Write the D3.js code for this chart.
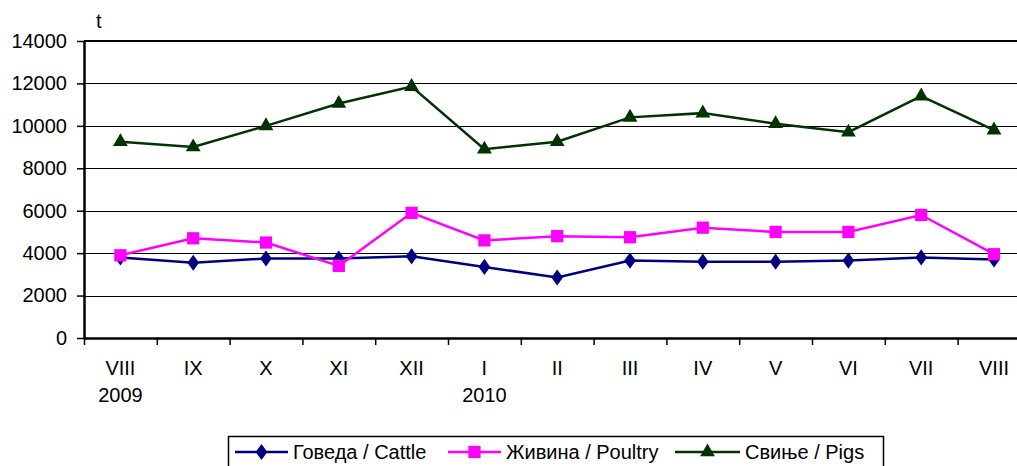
<!DOCTYPE html>
<html>
<head>
<meta charset="utf-8">
<script src="https://cdn.jsdelivr.net/npm/d3@7"></script>
<style>
  body { margin: 0; background: #fff; }
  svg text { font-family: "Liberation Sans", Arial, sans-serif; fill: #000; }
</style>
</head>
<body>
<svg width="1017" height="466"></svg>
<script>
// months (VIII 2009 .. VIII 2010)
var months = ["VIII", "IX", "X", "XI", "XII", "I", "II", "III", "IV", "V", "VI", "VII", "VIII"];
var years = ["2009", "", "", "", "", "2010", "", "", "", "", "", "", ""];
var cattle = [3800, 3550, 3750, 3750, 3850, 3350, 2850, 3650, 3600, 3600, 3650, 3800, 3700];
var poultry = [3900, 4700, 4500, 3400, 5900, 4600, 4800, 4750, 5200, 5000, 5000, 5800, 3950];
var pigs = [9250, 9000, 10000, 11050, 11850, 8900, 9250, 10400, 10600, 10100, 9700, 11400, 9800];
var yTicks = [0, 2000, 4000, 6000, 8000, 10000, 12000, 14000];
var seriesNames = ["Говеда / Cattle", "Живина / Poultry", "Свиње / Pigs"];

var series = [
  { name: seriesNames[0], values: cattle, color: "#000080", symbol: d3.symbolDiamond, size: 75 },
  { name: seriesNames[1], values: poultry, color: "#ff00ff", symbol: d3.symbolSquare, size: 150 },
  { name: seriesNames[2], values: pigs, color: "#003300", symbol: d3.symbolTriangle, size: 95 }
];

var svg = d3.select("svg"),
    plotLeft = 84, plotTop = 41, plotBottom = 338,
    plotRight = plotLeft + 13 * 72.8;

var x = d3.scaleBand()
    .domain(d3.range(months.length))
    .range([plotLeft, plotRight]);

var xb = d3.scaleLinear().domain([0, months.length]).range([plotLeft, plotRight]);

var y = d3.scaleLinear()
    .domain([0, 14000])
    .range([plotBottom, plotTop]);

// gridlines
svg.append("g")
    .selectAll("line")
    .data(yTicks.slice(1, -1))
    .enter().append("line")
    .attr("x1", plotLeft).attr("x2", plotRight)
    .attr("y1", function(d) { return Math.round(y(d)) + 0.5; })
    .attr("y2", function(d) { return Math.round(y(d)) + 0.5; })
    .attr("stroke", "#000")
    .attr("stroke-width", 1);

// top border of plot area
svg.append("line")
    .attr("x1", plotLeft).attr("x2", plotRight)
    .attr("y1", y(14000)).attr("y2", y(14000))
    .attr("stroke", "#000").attr("stroke-width", 2);

// y axis
var yAxis = svg.append("g")
    .attr("transform", "translate(" + plotLeft + ",0)")
    .call(d3.axisLeft(y).tickValues(yTicks).tickFormat(d3.format("d"))
      .tickSize(7).tickPadding(10).tickSizeOuter(0));
yAxis.select(".domain").attr("stroke-width", 2.5);
yAxis.selectAll(".tick line").attr("stroke-width", 1.5);
yAxis.selectAll("text")
    .attr("font-family", null)
    .attr("font-size", null)
    .style("font-size", "20px");

// x axis (ticks between categories)
var xAxis = svg.append("g")
    .attr("transform", "translate(0," + plotBottom + ")")
    .call(d3.axisBottom(xb).tickValues(d3.range(months.length + 1)).tickSize(7).tickFormat("").tickSizeOuter(0));
xAxis.select(".domain").attr("stroke-width", 2.5);
xAxis.selectAll(".tick line").attr("stroke-width", 1.5);

svg.append("g")
    .selectAll("text")
    .data(months)
    .enter().append("text")
    .attr("x", function(d, i) { return x(i) + x.bandwidth() / 2; })
    .attr("y", 375)
    .attr("text-anchor", "middle")
    .style("font-size", "20px")
    .text(function(d) { return d; });

svg.append("g")
    .selectAll("text")
    .data(years)
    .enter().append("text")
    .attr("x", function(d, i) { return x(i) + x.bandwidth() / 2; })
    .attr("y", 402)
    .attr("text-anchor", "middle")
    .style("font-size", "20px")
    .text(function(d) { return d; });

// unit label
svg.append("text")
    .attr("x", 96).attr("y", 28)
    .style("font-size", "20px")
    .text("t");

// lines and markers
var line = d3.line()
    .x(function(d, i) { return x(i) + x.bandwidth() / 2; })
    .y(function(d) { return y(d); });

series.forEach(function(s) {
  svg.append("path")
      .datum(s.values)
      .attr("d", line)
      .attr("fill", "none")
      .attr("stroke", s.color)
      .attr("stroke-width", 2.5);

  svg.append("g")
      .selectAll("path")
      .data(s.values)
      .enter().append("path")
      .attr("d", d3.symbol().type(s.symbol).size(s.size))
      .attr("transform", function(d, i) {
        return "translate(" + (x(i) + x.bandwidth() / 2) + "," + y(d) + ")" +
          (s.symbol === d3.symbolDiamond ? " scale(1.25,1)" : "");
      })
      .attr("fill", s.color);
});

// legend
var legend = svg.append("g");
legend.append("rect")
    .attr("x", 228.5).attr("y", 436.5)
    .attr("width", 655).attr("height", 40)
    .attr("fill", "#fff")
    .attr("stroke", "#000")
    .attr("stroke-width", 1.5);

var legendX = [235, 448, 675];
var legendW = [53, 53, 65];
series.forEach(function(s, i) {
  var gx = legendX[i], ly = 452;
  legend.append("line")
      .attr("x1", gx).attr("x2", gx + legendW[i])
      .attr("y1", ly).attr("y2", ly)
      .attr("stroke", s.color).attr("stroke-width", 2.5);
  legend.append("path")
      .attr("d", d3.symbol().type(s.symbol).size(s.size))
      .attr("transform", "translate(" + (gx + legendW[i] / 2) + "," + ly + ")" +
        (s.symbol === d3.symbolDiamond ? " scale(1.25,1)" : ""))
      .attr("fill", s.color);
  legend.append("text")
      .attr("x", gx + legendW[i] + 5).attr("y", ly + 7)
      .style("font-size", "20px")
      .text(s.name);
});
</script>
</body>
</html>
